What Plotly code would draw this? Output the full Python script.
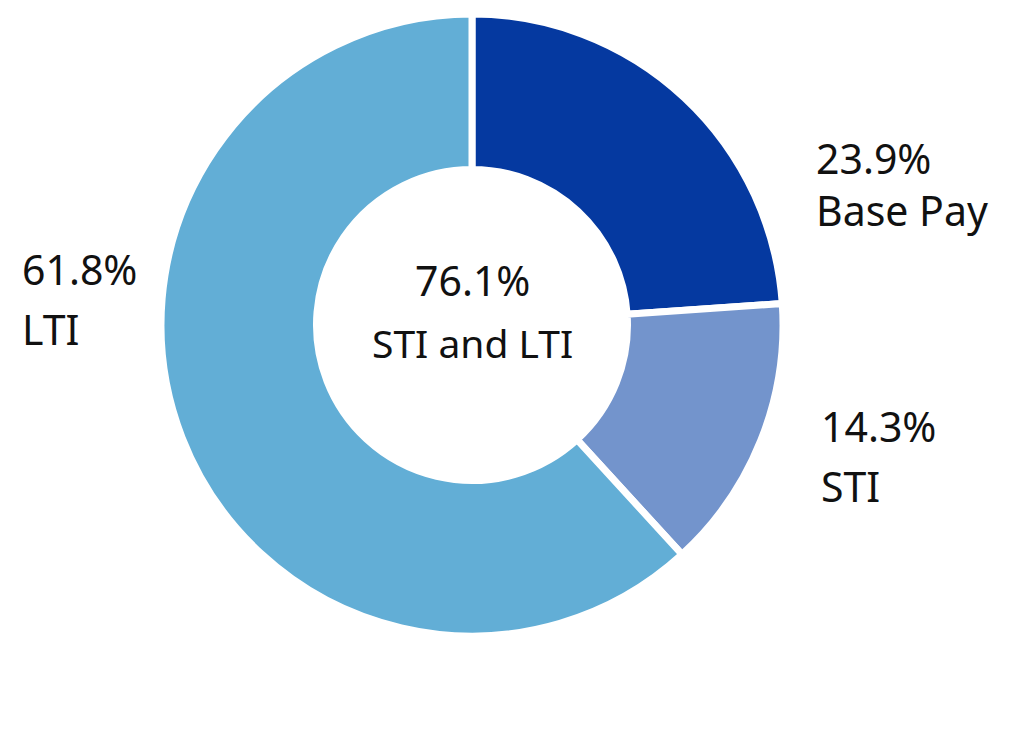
import plotly.graph_objects as go

labels = ["Base Pay", "STI", "LTI"]
values = [23.9, 14.3, 61.8]
colors = ["#0539A0", "#7394CC", "#62AED6"]
center_value = "76.1%"
center_label = "STI and LTI"

W, H = 1020, 744
OX, OY = 8, 8  # page offset
cx, cy, R = 472 - OX, 325 - OY, 311

fig = go.Figure(go.Pie(
    labels=labels, values=values, sort=False, direction="clockwise", rotation=0,
    hole=0.5, textinfo="none", hoverinfo="label+percent",
    marker=dict(colors=colors, line=dict(color="white", width=7)),
    domain=dict(x=[(cx - R) / W, (cx + R) / W], y=[(H - cy - R) / H, (H - cy + R) / H]),
    showlegend=False,
))

font = dict(family="Noto Sans", size=41, color="#111111")

def ann(text, x, y, anchor="left", size=41):
    fig.add_annotation(text=text, x=(x - OX) / W, y=1 - (y - OY - 2) / H,
                       xref="paper", yref="paper",
                       xanchor=anchor, yanchor="middle", showarrow=False,
                       font=dict(font, size=size))

ann(f"{values[0]}%", 814, 160)
ann(labels[0], 814, 212)
ann(f"{values[1]}%", 819, 428)
ann(labels[1], 819, 488)
ann(f"{values[2]}%", 20, 271)
ann(labels[2], 20, 331)
ann(center_value, 472, 282, anchor="center")
ann(center_label, 472, 345, anchor="center", size=39)

fig.update_layout(width=W, height=H, margin=dict(l=0, r=0, t=0, b=0),
                  paper_bgcolor="white", plot_bgcolor="white")
fig.write_html("out.html")
